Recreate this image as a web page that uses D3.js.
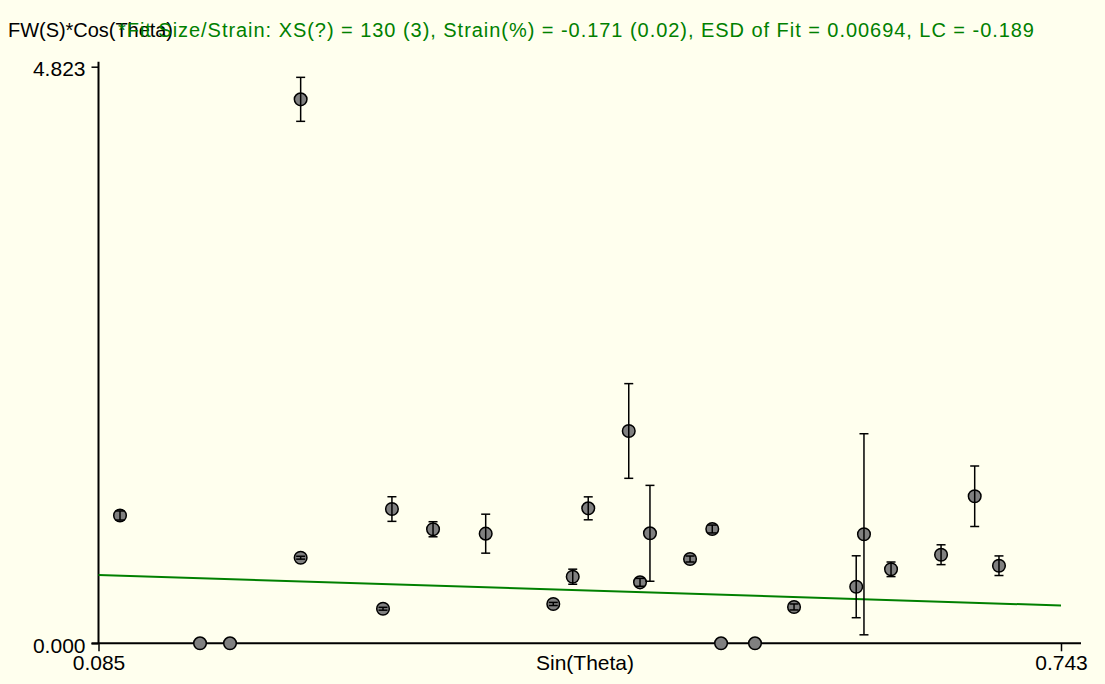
<!DOCTYPE html>
<html>
<head>
<meta charset="utf-8">
<script src="https://cdn.jsdelivr.net/npm/d3@7"></script>
<style>
  body { margin: 0; background: #ffffee; }
  svg { display: block; font-family: "Liberation Sans", Arial, sans-serif; }
</style>
</head>
<body>
<div class="chart"></div>
<script>
// data
const sinTheta = [0.0997, 0.1544, 0.1749, 0.2232, 0.2232, 0.2795, 0.2856, 0.3137, 0.3497,
    0.3959, 0.4092, 0.4198, 0.4475, 0.4552, 0.4620, 0.4894, 0.5046, 0.5106, 0.5338,
    0.5605, 0.6030, 0.6083, 0.6268, 0.6610, 0.6840, 0.7006];
const fwCos = [1.069, 0, 0, 4.550, 0.716, 0.289, 1.123, 0.954, 0.917,
    0.329, 0.557, 1.129, 1.776, 0.510, 0.920, 0.705, 0.956, 0, 0,
    0.304, 0.473, 0.912, 0.619, 0.741, 1.230, 0.649];
const esd = [0.038, 0, 0, 0.184, 0.012, 0.012, 0.103, 0.063, 0.163,
    0.013, 0.063, 0.096, 0.396, 0.033, 0.401, 0.025, 0.033, 0, 0,
    0.025, 0.259, 0.841, 0.061, 0.083, 0.253, 0.082];
const fitX = [0.085, 0.743];
const fitY = [0.571, 0.316];
const xTicks = [0.085, 0.743];
const yTicks = [0.000, 4.823];

const yTitle = "FW(S)*Cos(Theta)";
const xTitle = "Sin(Theta)";
const fitText = "*Fit Size/Strain: XS(?) = 130 (3), Strain(%) = -0.171 (0.02), ESD of Fit = 0.00694, LC = -0.189";

const W = 1105, H = 684;
const fontSize = 20;

let svg = d3.select(".chart")
    .append("svg")
    .attr("width", W)
    .attr("height", H);

svg.append("rect")
    .attr("width", W)
    .attr("height", H)
    .attr("fill", "#ffffee");

// scales
let xScale = d3.scaleLinear()
    .domain(d3.extent(xTicks))
    .range([98.5, 1061]);

let yScale = d3.scaleLinear()
    .domain(d3.extent(yTicks))
    .range([643.3, 66.7]);

const x0 = xScale.range()[0], x1 = xScale.range()[1];
const y0 = yScale.range()[0], y1 = yScale.range()[1];

// axis lines
svg.append("line")
    .attr("x1", x0).attr("x2", x0)
    .attr("y1", y1 - 5).attr("y2", y0)
    .attr("stroke", "black").attr("stroke-width", 2);
svg.append("line")
    .attr("x1", x0 - 7).attr("x2", x1 + 20)
    .attr("y1", y0).attr("y2", y0)
    .attr("stroke", "black").attr("stroke-width", 2);

// axes
let yAxis = svg.append("g")
    .attr("transform", "translate(" + x0 + ",0)")
    .call(d3.axisLeft(yScale).tickValues(yTicks).tickFormat(d3.format(".3f"))
        .tickSize(7).tickPadding(6));
let xAxis = svg.append("g")
    .attr("transform", "translate(0," + y0 + ")")
    .call(d3.axisBottom(xScale).tickValues(xTicks).tickFormat(d3.format(".3f"))
        .tickSize(8).tickPadding(4));

[xAxis, yAxis].forEach(g => {
    g.select(".domain").remove();
    g.selectAll(".tick line").attr("stroke", "black").attr("stroke-width", 1.5);
    g.selectAll(".tick text")
        .attr("fill", "black")
        .style("font-size", "21px")
        .style("font-family", "'Liberation Sans', Arial, sans-serif");
});
yAxis.selectAll(".tick text").attr("dy", "0.42em");

// fit line
svg.append("line")
    .attr("x1", xScale(fitX[0])).attr("y1", yScale(fitY[0]))
    .attr("x2", xScale(fitX[1])).attr("y2", yScale(fitY[1]))
    .attr("stroke", "#008000")
    .attr("stroke-width", 2);

let data = sinTheta.map((s, i) => ({x: s, y: fwCos[i], e: esd[i]}));

// points
svg.selectAll("circle.pt")
    .data(data)
    .enter()
    .append("circle")
    .attr("class", "pt")
    .attr("cx", d => xScale(d.x))
    .attr("cy", d => yScale(d.y))
    .attr("r", 6.3)
    .attr("fill", "#808080")
    .attr("stroke", "black")
    .attr("stroke-width", 1.5);

// error bars, drawn over the points
let bars = svg.selectAll("g.err")
    .data(data.filter(d => d.e > 0))
    .enter()
    .append("g")
    .attr("class", "err")
    .attr("stroke", "black")
    .attr("stroke-width", 1.5);

bars.append("line")
    .attr("x1", d => xScale(d.x)).attr("x2", d => xScale(d.x))
    .attr("y1", d => yScale(d.y + d.e)).attr("y2", d => yScale(d.y - d.e));
bars.append("line")
    .attr("x1", d => xScale(d.x) - 4.5).attr("x2", d => xScale(d.x) + 4.5)
    .attr("y1", d => yScale(d.y + d.e)).attr("y2", d => yScale(d.y + d.e));
bars.append("line")
    .attr("x1", d => xScale(d.x) - 4.5).attr("x2", d => xScale(d.x) + 4.5)
    .attr("y1", d => yScale(d.y - d.e)).attr("y2", d => yScale(d.y - d.e));

// titles
svg.append("text")
    .attr("x", 8).attr("y", 37)
    .attr("fill", "black")
    .attr("textLength", 165)
    .attr("lengthAdjust", "spacing")
    .style("font-size", fontSize + "px")
    .text(yTitle);

svg.append("text")
    .attr("x", 118).attr("y", 37)
    .attr("fill", "#008000")
    .attr("textLength", 916)
    .attr("lengthAdjust", "spacing")
    .style("font-size", fontSize + "px")
    .text(fitText);

svg.append("text")
    .attr("x", 536).attr("y", 670)
    .attr("fill", "black")
    .style("font-size", "21px")
    .text(xTitle);
</script>
</body>
</html>
